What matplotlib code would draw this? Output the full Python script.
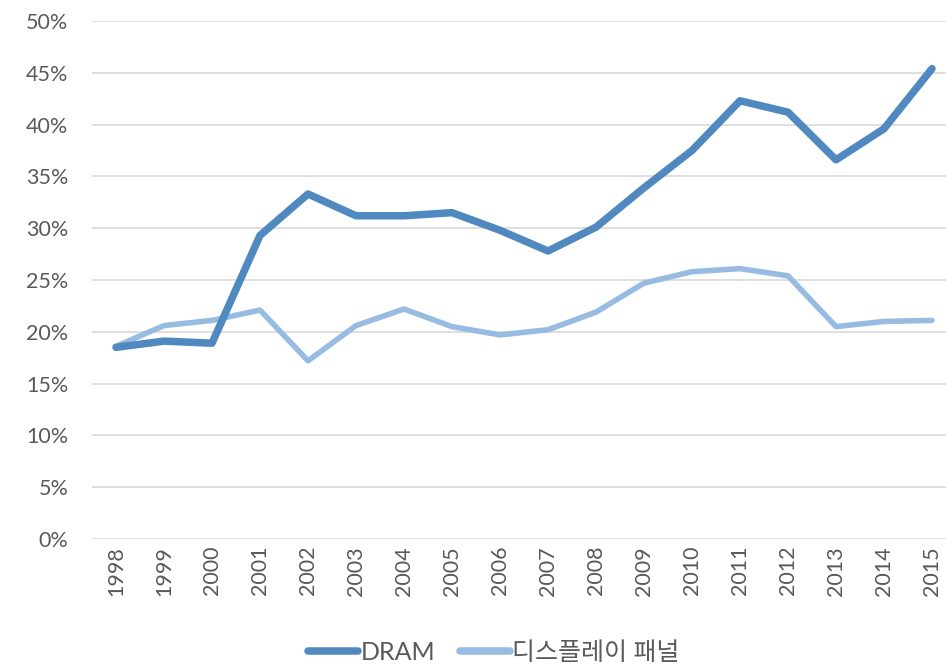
import matplotlib
matplotlib.use("Agg")
import matplotlib.pyplot as plt

years = [str(y) for y in range(1998, 2016)]
dram = [18.5, 19.1, 18.9, 29.3, 33.3, 31.2, 31.2, 31.5, 29.8, 27.8, 30.1, 33.9,
        37.5, 42.3, 41.2, 36.6, 39.6, 45.4]
display = [18.6, 20.6, 21.1, 22.1, 17.2, 20.6, 22.2, 20.5, 19.7, 20.2, 21.9, 24.7,
           25.8, 26.1, 25.4, 20.5, 21.0, 21.1]
yticks = [0, 5, 10, 15, 20, 25, 30, 35, 40, 45, 50]
series_names = ["DRAM", "디스플레이 패널"]

plt.rcParams['font.family'] = ['Lato', 'Noto Sans CJK KR', 'DejaVu Sans']

fig = plt.figure(figsize=(9.46, 6.72), dpi=100)
ax = fig.add_axes([92/946, 133/672, 1 - 92/946, (539-21)/672])

x = list(range(len(years)))
ax.plot(x, dram, color='#4F89BF', lw=5.4, solid_capstyle='round', solid_joinstyle='round',
        label=series_names[0], zorder=3)
ax.plot(x, display, color='#97BBE1', lw=4.0, solid_capstyle='round', solid_joinstyle='round',
        label=series_names[1], zorder=2)

ax.set_xlim(-0.5, -0.5 + (946 - 92) / 48)
ax.set_ylim(0, 50)
ax.set_yticks(yticks)
ax.set_yticklabels([f"{v}%" for v in yticks])
ax.set_xticks(x)
ax.set_xticklabels(years, rotation=90)
ax.yaxis.grid(True, color='#D9D9D9', lw=1.2)
ax.set_axisbelow(True)
for s in ax.spines.values():
    s.set_visible(False)
ax.tick_params(axis='both', length=0, labelsize=15.5, colors='#595959')
ax.tick_params(axis='y', pad=17)
ax.tick_params(axis='x', pad=5)

leg = fig.legend(loc='center', bbox_to_anchor=(0.522, 0.029), ncol=2, frameon=False,
                 prop={'size': 18}, handlelength=2.0,
                 handletextpad=0.1, columnspacing=1.0)
for t in leg.get_texts():
    t.set_color('#595959')
for h in leg.get_lines():
    h.set_linewidth(5.4)
    h.set_solid_capstyle('round')

fig.savefig("out.png", dpi=100)
